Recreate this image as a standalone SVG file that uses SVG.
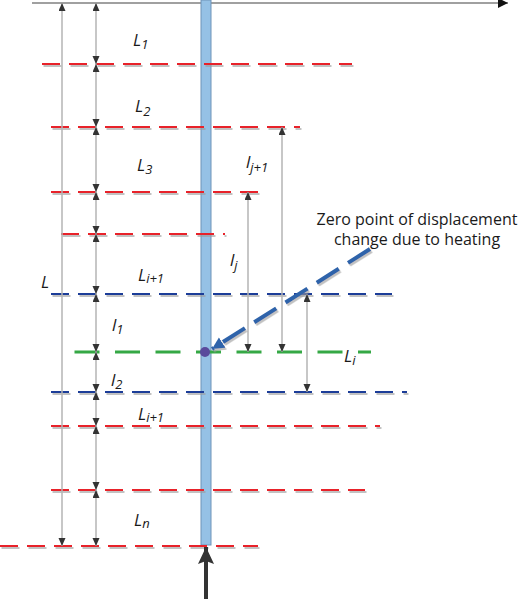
<svg xmlns="http://www.w3.org/2000/svg" width="520" height="599" viewBox="0 0 520 599">
<style>
.dim{stroke:#b4b4b4;stroke-width:1.5;fill:none;marker-start:url(#ah);marker-end:url(#ah)}
.red{stroke:#e8202a;stroke-width:2;stroke-dasharray:18 9;fill:none;filter:url(#sh)}
.navy{stroke:#1f3c98;stroke-width:2;stroke-dasharray:18 9;fill:none;filter:url(#sh)}
.green{stroke:#35a845;stroke-width:3;stroke-dasharray:25 15.5;fill:none}
.lbl{font-family:"Open Sans","Noto Sans",sans-serif;font-style:italic;font-size:17px;fill:#1a1a1a}
.sub{font-size:13px}
.note{font-family:"Open Sans","Noto Sans",sans-serif;font-size:16px;fill:#1a1a1a;text-anchor:middle}
</style>
<defs>
<marker id="ah" markerUnits="userSpaceOnUse" markerWidth="9" markerHeight="8" refX="8" refY="3.5" orient="auto-start-reverse"><path d="M0,0 L8,3.5 L0,7 Z" fill="#333"/></marker>
<marker id="ax" markerUnits="userSpaceOnUse" markerWidth="12" markerHeight="12" refX="10" refY="5" orient="auto"><path d="M0,0 L10,5 L0,10 Z" fill="#111"/></marker>
<marker id="bh" markerUnits="userSpaceOnUse" markerWidth="14" markerHeight="14" refX="12" refY="6" orient="auto"><path d="M0,0 L12,6 L0,12 Z" fill="#2f63aa"/></marker>
<marker id="big" markerUnits="userSpaceOnUse" markerWidth="18" markerHeight="16" refX="17" refY="8" orient="auto"><path d="M0,0 L17,8 L0,16 L3,8 Z" fill="#333"/></marker>
<filter id="sh" filterUnits="userSpaceOnUse" x="0" y="0" width="520" height="599"><feDropShadow dx="1.5" dy="2" stdDeviation="0.6" flood-color="#9a9a9a" flood-opacity="0.6"/></filter>
</defs>

<g id="axis"><line x1="32" y1="3" x2="508" y2="3" stroke="#808080" stroke-width="1.5" marker-end="url(#ax)"/></g>

<g id="column"><rect x="201" y="0" width="10" height="545" fill="#95c1e5" stroke="#6f93b8" stroke-width="1"/></g>

<g id="levels">
<line class="red" x1="42" y1="64" x2="352" y2="64"/>
<line class="red" x1="51" y1="127" x2="300" y2="127"/>
<line class="red" x1="51" y1="192" x2="258" y2="192"/>
<line class="red" x1="61" y1="234" x2="225" y2="234"/>
<line class="navy" x1="51" y1="294" x2="392" y2="294"/>
<line class="green" x1="74.5" y1="352" x2="371" y2="352"/>
<line class="navy" x1="51" y1="392" x2="407" y2="392"/>
<line class="red" x1="51" y1="426" x2="380" y2="426"/>
<line class="red" x1="51" y1="490" x2="365" y2="490"/>
<line class="red" x1="0" y1="546" x2="258" y2="546"/>
</g>

<g id="connectors">
<line class="dim" x1="62" y1="3" x2="62" y2="546"/>
<line class="dim" x1="96" y1="3" x2="96" y2="64"/>
<line class="dim" x1="96" y1="64" x2="96" y2="127"/>
<line class="dim" x1="96" y1="127" x2="96" y2="192"/>
<line class="dim" x1="96" y1="192" x2="96" y2="234"/>
<line class="dim" x1="96" y1="234" x2="96" y2="294"/>
<line class="dim" x1="96" y1="294" x2="96" y2="352"/>
<line class="dim" x1="96" y1="352" x2="96" y2="392"/>
<line class="dim" x1="96" y1="392" x2="96" y2="426"/>
<line class="dim" x1="96" y1="426" x2="96" y2="490"/>
<line class="dim" x1="96" y1="490" x2="96" y2="546"/>
<line class="dim" x1="282" y1="127" x2="282" y2="352"/>
<line class="dim" x1="248" y1="192" x2="248" y2="352"/>
<line class="dim" x1="307" y1="294" x2="307" y2="392"/>
<line x1="370" y1="249" x2="212" y2="349" stroke="#2f63aa" stroke-width="4" stroke-dasharray="26 11" marker-end="url(#bh)" filter="url(#sh)"/>
<line x1="206" y1="599" x2="206" y2="547" stroke="#333" stroke-width="4" marker-end="url(#big)"/>
</g>

<g id="zero-point"><circle cx="205" cy="352" r="5" fill="#5a4a9c"/></g>

<g id="labels">
<text class="lbl" x="133" y="46">L<tspan class="sub" dy="3">1</tspan></text>
<text class="lbl" x="135" y="112">L<tspan class="sub" dy="4">2</tspan></text>
<text class="lbl" x="137" y="171">L<tspan class="sub" dy="3">3</tspan></text>
<text class="lbl" x="138" y="281">L<tspan class="sub" dy="2">i+1</tspan></text>
<text class="lbl" x="41" y="288">L</text>
<text class="lbl" x="246" y="168">l<tspan class="sub" dy="4">j+1</tspan></text>
<text class="lbl" x="230" y="266">l<tspan class="sub" dy="4">j</tspan></text>
<text class="lbl" x="112" y="331">l<tspan class="sub" dy="3">1</tspan></text>
<text class="lbl" x="111" y="386">l<tspan class="sub" dy="3">2</tspan></text>
<text class="lbl" x="138" y="420">L<tspan class="sub" dy="2">i+1</tspan></text>
<text class="lbl" x="344" y="362">L<tspan class="sub" dy="3">i</tspan></text>
<text class="lbl" x="134" y="526">L<tspan class="sub" dy="2">n</tspan></text>
<text class="note" x="417" y="225">Zero point of displacement</text>
<text class="note" x="417" y="245">change due to heating</text>
</g>
</svg>
